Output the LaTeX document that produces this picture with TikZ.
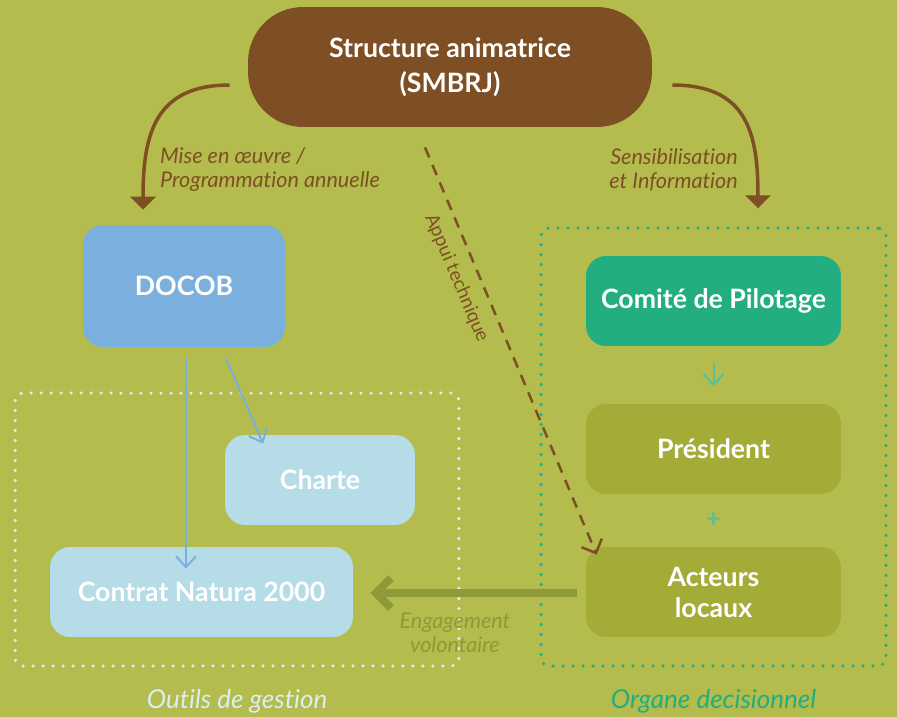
\documentclass[tikz,border=0pt]{standalone}
\usepackage{fontspec}
\setmainfont{Lato}[Ligatures={NoCommon}]
\usetikzlibrary{arrows.meta,calc}
\definecolor{bgolive}{HTML}{B3BC4C}
\definecolor{brun}{HTML}{7E4F25}
\definecolor{docobbleu}{HTML}{7BAFDE}
\definecolor{bleuclair}{HTML}{B6DCE8}
\definecolor{vertteal}{HTML}{22AE80}
\definecolor{olivefonce}{HTML}{A4AB37}
\definecolor{olivetrait}{HTML}{8E9A38}
\definecolor{tealclair}{HTML}{5CBF96}
\definecolor{blancbleu}{HTML}{DCEEF4}
\tikzset{
	boite/.style = {fill=#1, rounded corners=0.4cm, minimum height=1.8cm,
		inner sep=0pt, text=white, align=center,
		font=\fontsize{15.2}{17.6}\selectfont\bfseries},
	boite/.default = bleuclair,
	cadre/.style = {draw=#1, line width=0.07cm, line cap=round,
		dash pattern=on 0pt off 0.2cm, rounded corners=0.16cm,
		inner sep=0pt},
	cadretexte/.style = {text=#1, label distance=0.3cm,
		font=\fontsize{14.8}{17}\selectfont\itshape},
	lien/.style = {draw=brun, line width=0.07cm,
		-{Triangle[width=0.5cm,length=0.26cm]}},
	fleche/.style = {draw=#1, line width=0.04cm,
		-{Straight Barb[width=0.4cm,length=0.22cm]}},
	legende/.style = {text=#1, align=center,
		font=\fontsize{12.3}{13.6}\selectfont\itshape},
	legende/.default = brun
}
\begin{document}
\begin{tikzpicture}[x=0.02cm, y=-0.02cm]
\fill[bgolive] (0,0) rectangle (897,717);
\useasboundingbox (0,0) rectangle (897,717);

\node[boite=brun, minimum width=8.08cm, minimum height=2.4cm, rounded corners=1.1cm,
	font=\fontsize{15.2}{19.8}\selectfont\bfseries] (top) at (450,67) {Structure animatrice\\(SMBRJ)};
\node[boite=docobbleu, minimum width=4.04cm, minimum height=2.44cm] (docob) at (184,286) {DOCOB};

\node[cadre=blancbleu, minimum width=8.88cm, minimum height=5.46cm,
	label={[cadretexte=blancbleu]below:Outils de gestion}] (outils) at (237,529.5) {};
\node[boite, minimum width=3.8cm] (charte) at (320,480) {Charte};
\node[boite, minimum width=6.06cm] (contrat) at (201.5,592) {Contrat Natura 2000};

\node[cadre=vertteal, minimum width=6.9cm, minimum height=8.76cm,
	label={[cadretexte=vertteal]below:Organe decisionnel}] (organe) at (713.5,447) {};
\node[boite=vertteal, minimum width=5.1cm] (comite) at (713.5,301) {Comité de Pilotage};
\node[boite=olivefonce, minimum width=5.1cm] (president) at (713.5,449) {Président};
\node[boite=olivefonce, minimum width=5.1cm] (acteurs) at (713.5,592) {Acteurs\\locaux};
\node[text=tealclair, font=\Large\bfseries] (plus) at ($(president.south)!0.5!(acteurs.north)$) {+};

\node[legende, anchor=west, align=left] (mise) at (154,170) {Mise en œuvre /\\Programmation annuelle};
\node[legende, anchor=east, align=right] (sensib) at (744,170) {Sensibilisation\\et Information};

\draw[lien] ($(top.west)+(-18,18)$) .. controls +(-75,0) and +(0,-75) .. ($(docob.north)+(-41,-15)$);
\draw[lien] ($(top.east)+(20,18)$) .. controls +(75,0) and +(0,-75) .. ($(organe.north)+(44.5,-18)$);

\draw[fleche=docobbleu] ($(docob.south)+(2,11)$) -- ($(contrat.north)+(-15.5,22)$);
\draw[fleche=docobbleu] ($(docob.south)+(42,11)$) -- ($(charte.north)+(-57,9)$);
\draw[fleche=tealclair] ($(comite.south)+(0,17)$) -- ($(president.north)+(0,-17)$);

\draw[brun, line width=0.05cm, dash pattern=on 0.22cm off 0.16cm,
	-{Straight Barb[width=0.44cm,length=0.22cm]}] ($(top.south)+(-25,20)$)
	-- node[pos=0.3, sloped, below=0.12cm, font=\fontsize{10.8}{12}\selectfont, text=brun] (appui) {Appui technique}
	($(acteurs.north west)+(11,8)$);

\draw[olivetrait, line width=0.16cm, -{Straight Barb[width=0.6cm,length=0.3cm]}]
	($(acteurs.west)+(-9,1)$)
	-- node[pos=0.59, below=0.2cm, legende=olivetrait] (engag) {Engagement\\volontaire}
	($(contrat.east)+(17,1)$);
\end{tikzpicture}
\end{document}
